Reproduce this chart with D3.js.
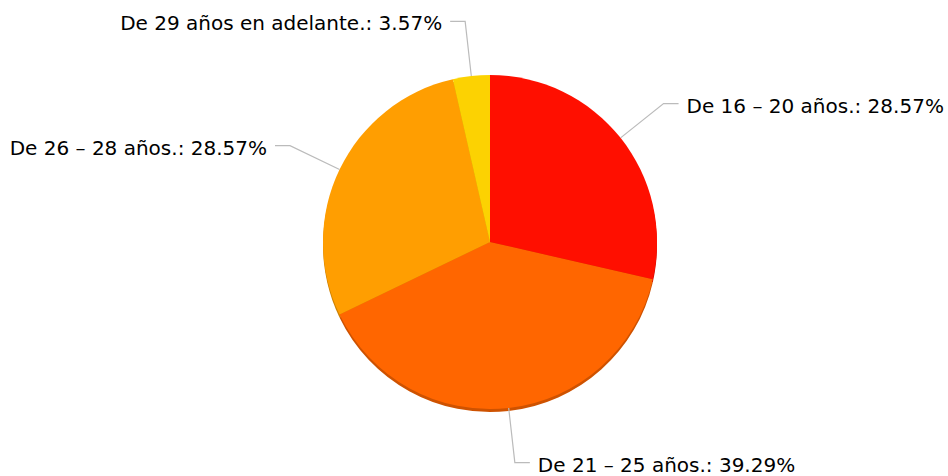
<!doctype html>
<html lang="es">
<head>
<meta charset="utf-8">
<title>Edades</title>
<style>
  body { margin: 0; background: #fff; }
  svg { display: block; }
  text { font-family: "DejaVu Sans", sans-serif; font-size: 20px; fill: #000; }
</style>
</head>
<body>
<svg></svg>
<script src="https://cdn.jsdelivr.net/npm/d3@7/dist/d3.min.js"></script>
<script>
let width = 948,
    height = 476;

// data
let categories = ["De 16 – 20 años.", "De 21 – 25 años.", "De 26 – 28 años.", "De 29 años en adelante."];
let values = [28.57, 39.29, 28.57, 3.57];
let colors = ["#FF0F00", "#FF6600", "#FF9E01", "#FCD202"];

let data = categories.map((c, i) => ({ name: c, value: values[i], color: colors[i] }));

let cx = 490, cy = 242, radius = 167, depth = 3;
let lineOut = 55, lineH = 15, gap = 8;

let svg = d3.select("svg")
    .attr("width", width)
    .attr("height", height);

let pie = d3.pie().sort(null).value(d => d.value);
let arcs = pie(data);

let arc = d3.arc().innerRadius(0).outerRadius(radius);

// depth (slight 3D edge under the pie)
svg.append("g")
    .attr("transform", `translate(${cx},${cy + depth})`)
  .selectAll("path")
  .data(arcs)
  .enter()
  .append("path")
    .attr("d", arc)
    .attr("fill", d => d3.color(d.data.color).darker(0.6));

svg.append("g")
    .attr("transform", `translate(${cx},${cy})`)
  .selectAll("path")
  .data(arcs)
  .enter()
  .append("path")
    .attr("d", arc)
    .attr("fill", d => d.data.color);

// labels with leader lines
let labels = svg.append("g").attr("transform", `translate(${cx},${cy})`);

arcs.forEach(d => {
  let a = (d.startAngle + d.endAngle) / 2;
  let sx = Math.sin(a), sy = -Math.cos(a);
  let x0 = sx * radius, y0 = sy * radius;
  let x1 = sx * (radius + lineOut), y1 = sy * (radius + lineOut);
  let right = sx >= 0;
  let x2 = x1 + (right ? lineH : -lineH);

  labels.append("path")
    .attr("d", `M${x0},${y0}L${x1},${y1}L${x2},${y1}`)
    .attr("fill", "none")
    .attr("stroke", "#bbbbbb")
    .attr("stroke-width", 1.2);

  labels.append("text")
    .attr("x", x2 + (right ? gap : -gap))
    .attr("y", y1)
    .attr("dy", "0.45em")
    .attr("text-anchor", right ? "start" : "end")
    .text(d.data.name + ": " + d.data.value.toFixed(2) + "%");
});
</script>
</body>
</html>
